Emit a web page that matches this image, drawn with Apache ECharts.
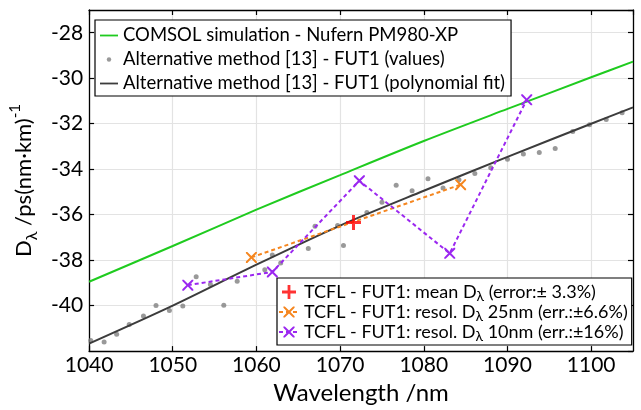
<!DOCTYPE html>
<html><head><meta charset="utf-8">
<script src="https://cdn.jsdelivr.net/npm/echarts@6/dist/echarts.min.js"></script>
<style>html,body{margin:0;padding:0;background:#fff}#c{width:641px;height:410px}</style>
</head><body><div id="c"></div>
<script>
// ---- data ----
const xTickLabels = ['1040','1050','1060','1070','1080','1090','1100'];
const yTickLabels = ['-40','-38','-36','-34','-32','-30','-28'];

const comsolX = [1040, 1050, 1060, 1070, 1080, 1090, 1100, 1105];
const comsolY = [-38.95, -37.38, -35.78, -34.26, -32.76, -31.35, -29.96, -29.27];

const fitX = [1040, 1050, 1060, 1070, 1080, 1090, 1100, 1105];
const fitY = [-41.67, -40.0, -38.2, -36.48, -34.95, -33.46, -32.0, -31.28];

const dotsX = [1040.2, 1041.8, 1043.3, 1044.8, 1046.5, 1048.0, 1049.6, 1051.2, 1052.8, 1054.5, 1056.1, 1057.7,
  1061.0, 1061.9, 1062.9, 1066.2, 1067.0, 1069.7, 1070.4, 1073.2, 1075.0, 1076.7, 1078.6, 1080.5, 1082.3,
  1084.2, 1086.1, 1088.0, 1090.0, 1091.9, 1093.8, 1095.7, 1097.8, 1099.8, 1101.8, 1103.7];
const dotsY = [-41.53, -41.6, -41.26, -40.83, -40.46, -40.0, -40.22, -40.02, -38.73, -39.07, -39.98, -38.93,
  -38.42, -37.77, -38.13, -37.49, -36.51, -36.48, -37.36, -35.9, -35.45, -34.71, -34.95, -34.42, -34.83,
  -34.47, -34.19, -33.94, -33.56, -33.33, -33.27, -33.09, -32.34, -32.05, -31.81, -31.52];

const meanX = [1071.6];
const meanY = [-36.34];

const res25X = [1059.4, 1084.4];
const res25Y = [-37.88, -34.68];

const res10X = [1051.8, 1061.9, 1072.3, 1083.1, 1092.3];
const res10Y = [-39.1, -38.52, -34.51, -37.7, -30.95];

const seriesNames = [
  'COMSOL simulation - Nufern PM980-XP',
  'Alternative method [13] - FUT1 (values)',
  'Alternative method [13] - FUT1 (polynomial fit)',
  'TCFL - FUT1: mean D',
  'TCFL - FUT1: resol. D 25nm',
  'TCFL - FUT1: resol. D 10nm'
];
const legendRich = {
  '3': ['TCFL - FUT1: mean D', ' (error:\u00b1 3.3%)'],
  '4': ['TCFL - FUT1: resol. D', ' 25nm (err.:\u00b16.6%)'],
  '5': ['TCFL - FUT1: resol. D', ' 10nm (err.:\u00b116%)']
};

// ---- helpers ----
const zip = (xs, ys) => xs.map((x, i) => [x, ys[i]]);
const FONT = 'Lato';
const X_PATH = 'path://M0,0 L1.3,0 L5,3.7 L8.7,0 L10,0 L10,1.3 L6.3,5 L10,8.7 L10,10 L8.7,10 L5,6.3 L1.3,10 L0,10 L0,8.7 L3.7,5 L0,1.3 Z';
const PLUS_PATH = 'path://M4,0 H6 V4 H10 V6 H6 V10 H4 V6 H0 V4 H4 Z';
const DOT_ICON = 'path://M0,0 M14,14 M4.8,7 A2.2,2.2 0 1,1 9.2,7 A2.2,2.2 0 1,1 4.8,7 Z';
const LINE_ICON = 'path://M0,0 M18,14 M0,6.1 H18 V7.9 H0 Z';

const GREEN = '#1fcb1f', GRAYDOT = '#808080', FIT = '#3c3c3c', RED = '#ff0000', ORANGE = '#f5861f', PURPLE = '#9b27f0';

const chart = echarts.init(document.getElementById('c'), null, {renderer: 'canvas'});

const axisCommon = {
  axisLine: {show: true, onZero: false, lineStyle: {color: '#000', width: 1.3}},
  axisTick: {show: true, inside: true, length: 5, lineStyle: {color: '#000', width: 1.2}}
};

const option = {
  backgroundColor: '#fff',
  animation: false,
  textStyle: {fontFamily: FONT},
  grid: {left: 84, right: 8, top: 10, bottom: 52, containLabel: false},
  xAxis: [
    Object.assign({
      type: 'value', min: 1040, max: 1105, interval: 10, position: 'bottom',
      name: 'Wavelength /nm', nameLocation: 'middle', nameGap: 21,
      nameTextStyle: {fontFamily: FONT, fontSize: 24, color: '#000'},
      axisLabel: {show: true, fontFamily: FONT, fontSize: 21, color: '#000', margin: 4,
        showMinLabel: true, showMaxLabel: false,
        formatter: v => xTickLabels.includes(String(v)) ? String(v) : ''},
      splitLine: {show: true, lineStyle: {color: '#e3e3e3', width: 1.2}}
    }, axisCommon),
    Object.assign({
      type: 'value', min: 1040, max: 1105, interval: 10, position: 'top',
      axisLabel: {show: false}, splitLine: {show: false}
    }, axisCommon)
  ],
  yAxis: [
    Object.assign({
      type: 'value', min: -42, max: -27, interval: 2, position: 'left',
      name: '{a|D}{s|\u03bb}{a| /ps(nm\u00b7km)}{p|-1}', nameLocation: 'middle', nameGap: 39, nameRotate: 90,
      nameTextStyle: {color: '#000', rich: {
        a: {fontFamily: FONT, fontSize: 22, color: '#000', lineHeight: 32, verticalAlign: 'middle'},
        s: {fontFamily: FONT, fontSize: 16, color: '#000', lineHeight: 16, verticalAlign: 'bottom'},
        p: {fontFamily: FONT, fontSize: 15, color: '#000', lineHeight: 16, verticalAlign: 'top'}
      }},
      axisLabel: {show: true, fontFamily: FONT, fontSize: 21, color: '#000', margin: 6,
        showMinLabel: false, showMaxLabel: false,
        formatter: v => yTickLabels.includes(String(v)) ? String(v) : ''},
      splitLine: {show: true, lineStyle: {color: '#e3e3e3', width: 1.2}}
    }, axisCommon),
    Object.assign({
      type: 'value', min: -42, max: -27, interval: 2, position: 'right',
      axisLabel: {show: false}, splitLine: {show: false}
    }, axisCommon)
  ],
  legend: [
    {
      orient: 'vertical', left: 95, top: 20, width: 440,
      backgroundColor: '#fff', borderColor: '#000', borderWidth: 1.2, borderRadius: 0,
      padding: [6, 6, 3, 5], itemGap: 5, itemWidth: 18, itemHeight: 14,
      textStyle: {fontFamily: FONT, fontSize: 18.5, color: '#000', lineHeight: 18},
      data: [
        {name: seriesNames[0], icon: LINE_ICON},
        {name: seriesNames[1], icon: DOT_ICON},
        {name: seriesNames[2], icon: LINE_ICON}
      ]
    },
    {
      orient: 'vertical', left: 277, top: 278, width: 360,
      backgroundColor: '#fff', borderColor: '#000', borderWidth: 1.2, borderRadius: 0,
      padding: [5, 4, 2, 1], itemGap: 0, itemWidth: 20, itemHeight: 14,
      formatter: name => {
        const idx = seriesNames.indexOf(name);
        const parts = legendRich[String(idx)];
        return '{a|' + parts[0] + '}{s|\u03bb}{a|' + parts[1] + '}';
      },
      textStyle: {fontFamily: FONT, fontSize: 18, color: '#000', rich: {
        a: {fontFamily: FONT, fontSize: 18, color: '#000', lineHeight: 22, verticalAlign: 'middle'},
        s: {fontFamily: FONT, fontSize: 14, color: '#000', lineHeight: 14, verticalAlign: 'bottom'}
      }},
      data: [
        {name: seriesNames[3]},
        {name: seriesNames[4]},
        {name: seriesNames[5]}
      ]
    }
  ],
  series: [
    {
      name: seriesNames[0], type: 'line', data: zip(comsolX, comsolY), smooth: 0.3,
      symbol: 'none', lineStyle: {color: GREEN, width: 2}, itemStyle: {color: GREEN}, z: 2
    },
    {
      name: seriesNames[1], type: 'scatter', data: zip(dotsX, dotsY),
      symbol: 'circle', symbolSize: 5, itemStyle: {color: GRAYDOT}, z: 3
    },
    {
      name: seriesNames[2], type: 'line', data: zip(fitX, fitY), smooth: 0.3,
      symbol: 'none', lineStyle: {color: FIT, width: 2}, itemStyle: {color: FIT}, z: 4
    },
    {
      name: seriesNames[4], type: 'line', data: zip(res25X, res25Y),
      symbol: X_PATH, symbolSize: 11, showAllSymbol: true,
      lineStyle: {color: ORANGE, width: 2, type: [4, 3]}, itemStyle: {color: ORANGE}, z: 5
    },
    {
      name: seriesNames[5], type: 'line', data: zip(res10X, res10Y),
      symbol: X_PATH, symbolSize: 11, showAllSymbol: true,
      lineStyle: {color: PURPLE, width: 2, type: [4, 3]}, itemStyle: {color: PURPLE}, z: 5
    },
    {
      name: seriesNames[3], type: 'scatter', data: zip(meanX, meanY),
      symbol: PLUS_PATH, symbolSize: 15, itemStyle: {color: RED}, z: 6
    }
  ]
};
chart.setOption(option);
</script>
</body></html>
